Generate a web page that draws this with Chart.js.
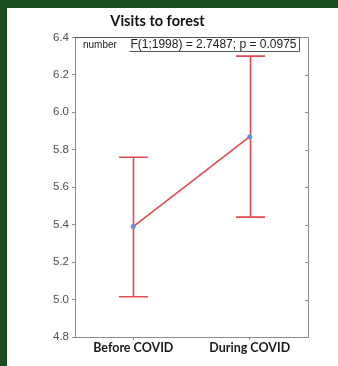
<!DOCTYPE html>
<html>
<head>
<meta charset="utf-8">
<script src="https://cdn.jsdelivr.net/npm/chart.js@4.4.0/dist/chart.umd.min.js"></script>
<style>
    html, body { margin: 0; padding: 0; background: #ffffff; }
    #page { position: relative; width: 338px; height: 366px; overflow: hidden; background: #ffffff; }
    #topBand { position: absolute; left: 0; top: 0; width: 338px; height: 8px; background: #174d1f; }
    #leftBand { position: absolute; left: 0; top: 0; width: 7px; height: 366px; background: #174d1f; }
    #wrap { position: absolute; left: 7px; top: 8px; width: 331px; height: 358px; }
</style>
</head>
<body>
<div id="page">
    <div id="topBand"></div>
    <div id="leftBand"></div>
    <div id="wrap"><canvas id="chart" width="331" height="358"></canvas></div>
</div>
<script>
const categories = ['Before COVID', 'During COVID'];
const means = [5.39, 5.87];
const errLow = [5.015, 5.44];
const errHigh = [5.76, 6.30];
const yTicks = [4.8, 5.0, 5.2, 5.4, 5.6, 5.8, 6.0, 6.2, 6.4];
const statLabel = 'F(1;1998) = 2.7487; p = 0.0975';

const RED = '#de4a50';
const FRAME = '#8c8c8c';

// error bars under the mean line
const errorBars = {
    id: 'errorBars',
    beforeDatasetsDraw(chart) {
        const c = chart.ctx;
        const x = chart.scales.x;
        const y = chart.scales.y;
        c.save();
        c.strokeStyle = RED;
        c.lineWidth = 1.6;
        categories.forEach((cat, i) => {
            const px = Math.round(x.getPixelForValue(i)) + 0.5;
            const top = y.getPixelForValue(errHigh[i]);
            const bot = y.getPixelForValue(errLow[i]);
            c.beginPath();
            c.moveTo(px, top);
            c.lineTo(px, bot);
            c.moveTo(px - 14.5, top);
            c.lineTo(px + 14.5, top);
            c.moveTo(px - 14.5, bot);
            c.lineTo(px + 14.5, bot);
            c.stroke();
        });
        c.restore();
    }
};

// frame, inner right ticks and the stats box
const frame = {
    id: 'frame',
    afterDraw(chart) {
        const c = chart.ctx;
        const a = chart.chartArea;
        const y = chart.scales.y;
        c.save();
        c.strokeStyle = FRAME;
        c.lineWidth = 1;
        c.strokeRect(Math.round(a.left) + 0.5, Math.round(a.top) + 0.5,
            Math.round(a.right - a.left), Math.round(a.bottom - a.top));

        c.beginPath();
        yTicks.forEach(v => {
            const py = Math.round(y.getPixelForValue(v)) + 0.5;
            c.moveTo(a.right - 3, py);
            c.lineTo(a.right, py);
        });
        c.stroke();

        // stats box
        const boxTop = Math.round(a.top) + 0.5;
        const boxBot = boxTop + 14;
        const boxRight = Math.round(a.right) - 8.5;
        c.fillStyle = '#222222';
        c.textBaseline = 'middle';
        c.font = '10px "Liberation Sans", Arial, sans-serif';
        c.fillText('number', a.left + 8, boxTop + 8);
        c.font = '12px "Liberation Sans", Arial, sans-serif';
        const tw = c.measureText(statLabel).width;
        const tx = boxRight - 3 - tw;
        c.fillText(statLabel, tx, boxTop + 7.5);

        c.strokeStyle = '#555555';
        c.beginPath();
        c.moveTo(a.left, boxTop);
        c.lineTo(boxRight, boxTop);
        c.lineTo(boxRight, boxBot);
        c.lineTo(tx - 1, boxBot);
        c.stroke();
        c.restore();
    }
};

const ctx = document.getElementById('chart');
const chart = new Chart(ctx, {
    type: 'line',
    data: {
        labels: categories,
        datasets: [
            {
                label: 'number',
                data: means,
                borderColor: RED,
                borderWidth: 1.6,
                tension: 0,
                fill: false,
                pointRadius: 2.5,
                pointBorderWidth: 0,
                pointBackgroundColor: '#6a8fd4'
            }
        ]
    },
    options: {
        responsive: false,
        animation: false,
        layout: {
            padding: { top: 0, right: 30, bottom: 11, left: 0 }
        },
        plugins: {
            legend: { display: false },
            tooltip: { enabled: false },
            title: {
                display: true,
                text: 'Visits to forest',
                color: '#111111',
                font: { family: 'Lato, "Open Sans", sans-serif', size: 14.5, weight: 'bold' },
                padding: { top: 5, bottom: 7 }
            }
        },
        scales: {
            x: {
                type: 'category',
                offset: true,
                border: { display: false },
                grid: { offset: false, drawOnChartArea: false, tickLength: 3, color: FRAME },
                ticks: {
                    padding: 0,
                    color: '#1a1a1a',
                    font: { family: 'Lato, "Open Sans", sans-serif', size: 12.5, weight: 'bold' }
                }
            },
            y: {
                min: 4.8,
                max: 6.4,
                border: { display: false },
                grid: { drawOnChartArea: false, tickLength: 3, color: FRAME },
                afterBuildTicks: (scale) => {
                    scale.ticks = yTicks.map(v => ({ value: v }));
                },
                afterFit: (scale) => { scale.width = 68; },
                ticks: {
                    padding: 3,
                    color: '#505050',
                    font: { family: '"Liberation Sans", Arial, sans-serif', size: 11.5 },
                    callback: function (value) {
                        return value.toFixed(1);
                    }
                }
            }
        }
    },
    plugins: [errorBars, frame]
});
</script>
</body>
</html>
